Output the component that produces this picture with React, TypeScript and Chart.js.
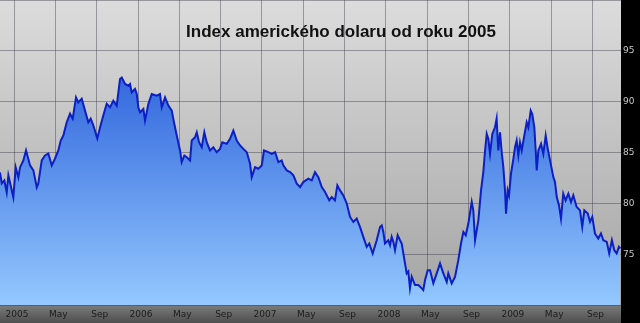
import React, { useEffect, useRef } from "react";
import { Chart, registerables } from "chart.js";

Chart.register(...registerables);

// months since Jan 2005 (0 = Jan 2005)
const months: number[] = [
  -1.36, -1.19, -0.94, -0.71, -0.55, -0.22, -0.07, 0.16, 0.42, 0.58, 0.9, 1.16, 1.55, 1.87, 2.2, 2.35, 2.68, 3.0, 3.32, 3.65, 3.97, 4.29, 4.52,
  4.77, 5.1, 5.42, 5.68, 6.0, 6.22, 6.55, 6.87, 7.19, 7.42, 7.68, 8.06, 8.33, 8.64, 8.97, 9.29, 9.61, 9.94, 10.26, 10.43, 10.75, 11.06,
  11.23, 11.39, 11.71, 11.88, 12.03, 12.2, 12.52, 12.68, 13.0, 13.33, 13.81, 14.13, 14.3, 14.62, 14.94, 15.27, 15.42, 15.75, 16.07, 16.23,
  16.49, 16.72, 17.04, 17.2, 17.52, 17.69, 17.91, 18.17, 18.42, 18.65, 18.97, 19.29, 19.62, 19.94, 20.16, 20.59, 20.91, 21.23, 21.56, 21.88,
  22.2, 22.53, 22.85, 23.01, 23.33, 23.65, 23.98, 24.2, 24.62, 24.95, 25.27, 25.59, 25.91, 26.07, 26.4, 26.72, 27.04, 27.37, 27.69, 28.0,
  28.49, 28.82, 29.14, 29.46, 29.79, 30.11, 30.52, 30.76, 31.07, 31.3, 31.56, 31.88, 32.21, 32.53, 32.85, 33.17, 33.49, 33.81, 34.14, 34.39,
  34.72, 35.11, 35.43, 35.6, 35.75, 35.91, 36.23, 36.4, 36.56, 36.72, 36.88, 37.14, 37.37, 37.53, 37.85, 38.01, 38.17, 38.33, 38.5, 38.82,
  39.14, 39.47, 39.62, 39.79, 40.05, 40.27, 40.59, 40.92, 41.24, 41.56, 41.89, 42.04, 42.37, 42.69, 43.01, 43.27, 43.5, 43.73, 43.98, 44.31,
  44.46, 44.63, 44.95, 45.21, 45.43, 45.6, 45.76, 45.92, 46.08, 46.3, 46.56, 46.72, 46.88, 47.05, 47.21, 47.37, 47.53, 47.63, 47.79, 47.92,
  48.11, 48.34, 48.5, 48.66, 48.82, 48.98, 49.15, 49.4, 49.63, 49.79, 50.02, 50.17, 50.37, 50.5, 50.6, 50.76, 51.02, 51.24, 51.47, 51.67,
  51.89, 52.21, 52.37, 52.54, 52.76, 52.95, 53.17, 53.4, 53.66, 53.92, 54.14, 54.47, 54.79, 55.01, 55.21, 55.54, 55.76, 55.98, 56.24, 56.56,
  56.82, 57.05, 57.38, 57.62, 57.88, 58.11, 58.34, 58.56, 58.69,
];

// US dollar index values
const values: number[] = [
  83.04, 81.96, 82.25, 81.08, 82.75, 81.27, 80.59, 83.53, 82.55, 83.53, 84.22, 85.2, 83.73, 83.24, 81.57, 81.96, 84.22, 84.71, 84.9, 83.73, 84.41, 85.2, 86.18,
  86.67, 87.97, 88.82, 88.33, 90.42, 89.93, 90.29, 89.12, 87.97, 88.33, 87.65, 86.37, 87.48, 88.63, 89.8, 89.44, 90.1, 89.61, 92.23, 92.38, 91.74, 91.57,
  91.74, 90.91, 91.25, 90.75, 89.44, 88.95, 89.28, 88.14, 89.77, 90.75, 90.59, 90.75, 89.44, 90.42, 89.61, 89.12, 88.3, 86.67, 85.2, 84.05,
  84.71, 84.54, 84.22, 86.18, 86.5, 86.99, 86.01, 85.52, 86.99, 86.01, 85.2, 85.52, 85.03, 85.36, 86.01, 85.85, 86.34, 87.16, 86.18, 85.69,
  85.36, 85.03, 83.89, 82.58, 83.56, 83.4, 83.73, 85.2, 85.03, 84.87, 85.03, 84.05, 84.22, 83.73, 83.24, 83.07, 82.75, 81.93, 81.6, 82.09,
  82.42, 82.25, 83.07, 82.58, 81.6, 81.11, 80.29, 80.62, 80.29, 81.76, 81.27, 80.78, 79.97, 78.66, 78.17, 78.5, 77.68, 76.7, 75.72, 76.05,
  75.07, 76.37, 77.68, 77.84, 77.19, 76.05, 76.37, 75.88, 76.7, 76.21, 75.39, 76.86, 76.37, 76.05, 74.09, 73.11, 73.3, 71.64, 72.77, 71.96,
  71.96, 71.64, 71.47, 72.45, 73.43, 73.43, 72.13, 73.11, 74.09, 73.11, 72.28, 73.11, 72.13, 72.77, 74.41, 76.05, 77.19, 76.86, 78.01, 80.13,
  79.31, 76.37, 78.33, 81.27, 83.07, 85.2, 86.83, 86.34, 84.87, 86.83, 87.48, 88.33, 85.2, 86.99, 85.03, 83.56, 81.27, 78.99, 81.27, 80.78,
  82.91, 84.38, 85.52, 86.18, 84.71, 86.01, 85.2, 86.67, 87.97, 87.48, 89.12, 88.79, 87.48, 85.2, 83.24, 85.2, 85.85, 84.87, 86.67, 85.36,
  84.22, 82.58, 82.09, 80.62, 79.8, 78.5, 80.95, 80.29, 80.95, 80.13, 80.78, 79.64, 79.31, 77.68, 79.31, 78.99, 78.17, 78.66, 77.03, 76.54,
  77.03, 76.37, 76.21, 75.07, 76.37, 75.39, 75.07, 75.72, 75.56,
];

const monthNames: string[] = ["", "", "", "", "May", "", "", "", "Sep", "", "", ""];
const startYear = 2005;
const titleText = "Index amerického dolaru od roku 2005";

export default function App() {
  const ref = useRef<HTMLCanvasElement>(null);

  useEffect(() => {
    document.body.style.margin = "0";
    const canvas = ref.current!;
    const bgPlugin = {
      id: "bg",
      beforeDraw(chart: any) {
        const { ctx, chartArea, width, height } = chart;
        ctx.save();
        ctx.fillStyle = "#000";
        ctx.fillRect(0, 0, width, height);
        const g = ctx.createLinearGradient(0, chartArea.top, 0, chartArea.bottom);
        g.addColorStop(0, "#dcdcdc");
        g.addColorStop(1, "#a4a4a4");
        ctx.fillStyle = g;
        ctx.fillRect(chartArea.left, chartArea.top, chartArea.right - chartArea.left, chartArea.bottom - chartArea.top);
        const g2 = ctx.createLinearGradient(0, chartArea.bottom, 0, height);
        g2.addColorStop(0, "#7c7c7c");
        g2.addColorStop(1, "#4e4e4e");
        ctx.fillStyle = g2;
        ctx.fillRect(chartArea.left, chartArea.bottom, chartArea.right - chartArea.left, height - chartArea.bottom);
        ctx.restore();
      },
      afterDraw(chart: any) {
        const { ctx } = chart;
        ctx.save();
        ctx.font = "bold 17px 'Liberation Sans', Arial, sans-serif";
        ctx.fillStyle = "#111";
        ctx.textAlign = "center";
        ctx.textBaseline = "alphabetic";
        ctx.fillText(titleText, 341, 37);
        ctx.restore();
      },
    };

    const chart = new Chart(canvas, {
      type: "line",
      data: {
        datasets: [
          {
            data: months.map((m, i) => ({ x: m, y: values[i] })),
            borderColor: "#0c1fc4",
            borderWidth: 2,
            pointRadius: 0,
            tension: 0,
            fill: "start",
            backgroundColor: (c: any) => {
              const area = c.chart.chartArea;
              if (!area) return "#4a80e8";
              const g = c.chart.ctx.createLinearGradient(0, area.top, 0, area.bottom);
              g.addColorStop(0, "#1f4ed0");
              g.addColorStop(0.35, "#3f74e2");
              g.addColorStop(1, "#94c8fe");
              return g;
            },
          },
        ],
      },
      options: {
        animation: false,
        responsive: false,
        maintainAspectRatio: false,
        layout: { padding: 0 },
        plugins: { legend: { display: false }, tooltip: { enabled: false }, title: { display: false } },
        scales: {
          x: {
            type: "linear",
            min: -1.36,
            max: 58.76,
            z: 1,
            border: { display: false },
            grid: { color: "rgba(50,50,60,0.4)", lineWidth: 1, drawTicks: false },
            afterFit: (s: any) => {
              s.height = 18;
              s.paddingLeft = 0;
              s.paddingRight = 0;
            },
            afterBuildTicks: (s: any) => {
              const t = [];
              for (let m = 0; m <= 58; m += 4) t.push({ value: m });
              s.ticks = t;
            },
            ticks: {
              padding: 4,
              labelOffset: 3,
              maxRotation: 0,
              autoSkip: false,
              color: "#1c1c1c",
              font: { family: "'DejaVu Sans', Verdana, sans-serif", size: 9 },
              callback: (v: any) => {
                const m = Math.round(Number(v));
                const mm = ((m % 12) + 12) % 12;
                if (mm === 0) return String(startYear + m / 12);
                return monthNames[mm];
              },
            },
          },
          y: {
            position: "right",
            min: 70,
            max: 100,
            z: 1,
            border: { display: false },
            grid: { color: "rgba(50,50,60,0.4)", lineWidth: 1, drawTicks: false },
            afterFit: (s: any) => {
              s.width = 19;
              s.paddingTop = 0;
              s.paddingBottom = 0;
            },
            ticks: {
              stepSize: 5,
              padding: 2,
              color: "#c8c8c8",
              font: { family: "'DejaVu Sans', Verdana, sans-serif", size: 9 },
              callback: (v: any) => (v === 70 || v === 100 ? "" : String(v)),
            },
          },
        },
      },
      plugins: [bgPlugin],
    });
    return () => chart.destroy();
  }, []);

  return <canvas ref={ref} width={640} height={323} style={{ display: "block", width: 640, height: 323 }} />;
}
